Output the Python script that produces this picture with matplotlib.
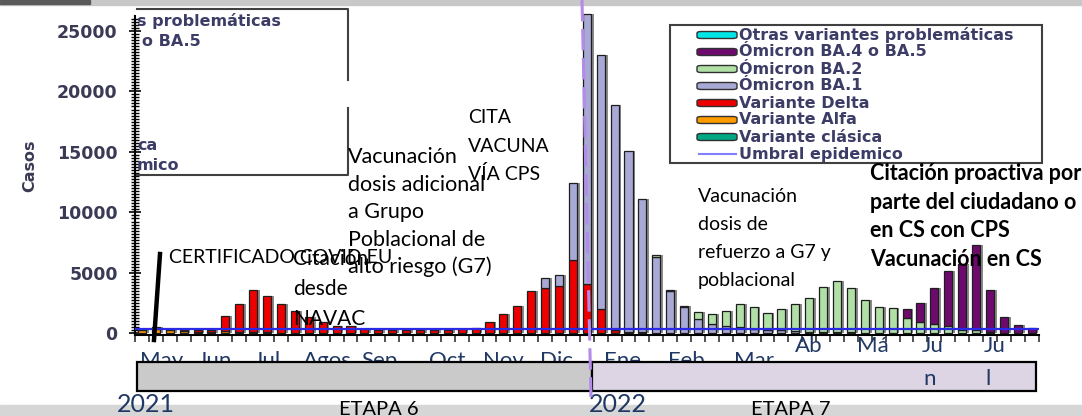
import numpy as np
import matplotlib.pyplot as plt
from matplotlib.patches import Rectangle, FancyBboxPatch
from matplotlib.lines import Line2D
from matplotlib.ticker import MultipleLocator

W, H = 1082, 416


def fx(x):
    return x / W


def fy(y):
    return 1 - y / H


# weekly cases, week 0 = first week of May 2021 ... week 64 = end of Jul 2022
clasica = [0] * 65
alfa = [250, 350, 250, 200, 150, 100, 180, 150, 150, 110, 80, 60, 50, 40, 30, 20] + [0] * 49
delta = [150, 150, 100, 100, 100, 150, 1250, 2300, 3480, 2950, 2370, 1760, 1300, 950, 610, 620,
         400, 300, 250, 250, 250, 300, 300, 350, 470, 930, 1630, 2260, 3470, 3770, 3910, 6030,
         4100, 2040, 300, 150, 100, 50] + [0] * 27
ba1 = [0] * 29 + [830, 960, 6420, 22290, 20980, 18615, 14910, 11025, 6275, 3500, 2160, 1210,
                  800, 650, 500, 350, 250, 250, 200, 150, 150, 100, 100, 80, 50] + [0] * 11
ba2 = [0] * 37 + [200, 110, 150, 580, 830, 1170, 1950, 1825, 1430, 1790, 2250, 2800, 3680,
                  4200, 3670, 2700, 2125, 2120, 1300, 935, 800, 580, 300, 300, 150, 50] + [0] * 2
ba45 = [0] * 55 + [740, 1600, 2975, 4620, 5460, 6970, 3460, 1350, 740, 440]
otras = [0] * 65
umbral = 400

series_names = ["Variante clásica", "Variante Alfa", "Variante Delta", "Ómicron BA.1",
                "Ómicron BA.2", "Ómicron BA.4 o BA.5", "Otras variantes problemáticas"]
series_colors = ["#00a884", "#ff9a00", "#ee0000", "#a9a9d6", "#b0e0a6", "#6e0a6e", "#00e6e6"]

months_low = ["May", "Jun", "Jul", "Agos", "Sep", "Oct", "Nov", "Dic", "Ene", "Feb", "Mar"]
months_low_x = [162, 215, 267, 327, 379, 447, 503, 557, 622, 686, 754]
months_high = ["Ab", "Má", "Ju", "Ju"]
months_high_x = [809, 873, 933, 995]

fig = plt.figure(figsize=(W / 100, H / 100), dpi=100)
ax = fig.add_axes([fx(135), fy(335), fx(1038.6) - fx(135), (335 - 16) / H])

x = np.arange(len(delta))
series = [np.array(s, float) for s in [clasica, alfa, delta, ba1, ba2, ba45, otras]]
total = sum(series)

# drop shadow behind each bar
ax.bar(x + 0.2, total, width=0.58, color="#8a8a8a", zorder=1, clip_on=False)
bottom = np.zeros(len(x))
for vals, col in zip(series, series_colors):
    m = vals > 0
    ax.bar(x[m], vals[m], bottom=bottom[m], width=0.58, color=col,
           edgecolor="#1e1e1e", linewidth=0.9, zorder=2, clip_on=False)
    bottom += vals

ax.axhline(umbral, color="#2a2ae6", lw=1.6, zorder=3)

ax.set_xlim(-0.5, 64.5)
ax.set_ylim(-124, 26225)
ax.set_xticks(np.arange(-0.5, 65, 1))
ax.set_xticklabels([])
ax.tick_params(axis="x", direction="out", length=5, width=1.2, color="#333333")
ax.yaxis.set_major_locator(MultipleLocator(5000))
ax.yaxis.set_minor_locator(MultipleLocator(250))
ax.tick_params(axis="y", which="major", direction="inout", length=9, width=1.2,
               labelsize=12.5, labelcolor="#3a3a55", pad=8)
ax.tick_params(axis="y", which="minor", direction="inout", length=6, width=1)
for lab in ax.get_yticklabels():
    lab.set_fontweight("bold")
    lab.set_family("DejaVu Sans")
ax.spines["top"].set_visible(False)
ax.spines["right"].set_visible(False)
ax.spines["left"].set_linewidth(1.5)
ax.spines["bottom"].set_linewidth(1.5)
ax.patch.set_alpha(0)
fig.text(fx(30), fy(166), "Casos", rotation=90, ha="center", va="center",
         fontsize=11.5, fontweight="bold", color="#3a3a55")

# page decorations
fig.add_artist(Rectangle((0, fy(5)), 1, 5 / H, transform=fig.transFigure,
                         color="#c8c8c8", zorder=0))
fig.add_artist(Rectangle((0, fy(4)), fx(90), 4 / H, transform=fig.transFigure,
                         color="#5a5a5a", zorder=0))
fig.add_artist(Rectangle((0, 0), 1, 11 / H, transform=fig.transFigure,
                         color="#d6d6d6", zorder=0))

# stage boxes
fig.add_artist(Rectangle((fx(137), fy(391)), fx(592) - fx(137), 29 / H, transform=fig.transFigure,
                         facecolor="#cacaca", edgecolor="black", lw=1.6, zorder=6))
fig.add_artist(Rectangle((fx(592), fy(391)), fx(1036) - fx(592), 29 / H, transform=fig.transFigure,
                         facecolor="#ddd5e3", edgecolor="black", lw=1.6, zorder=6))

month_font = dict(family="Lato", fontsize=16, color="#203864", ha="center", va="baseline")
for name, xp in zip(months_low, months_low_x):
    fig.text(fx(xp), fy(367), name, zorder=5, **month_font)
for name, xp in zip(months_high, months_high_x):
    fig.text(fx(xp), fy(352), name, zorder=5, **month_font)
fig.text(fx(930), fy(385), "n", zorder=7, **month_font)
fig.text(fx(988), fy(385), "l", zorder=7, **month_font)
fig.text(fx(146), fy(412), "2021", family="Lato", fontsize=18, color="#203864",
         ha="center", va="baseline", zorder=7)
fig.text(fx(618), fy(412), "2022", family="Lato", fontsize=18, color="#203864",
         ha="center", va="baseline", zorder=7)
fig.text(fx(379), fy(415), "ETAPA 6", family="Lato", fontsize=14.5, color="black",
         ha="center", va="baseline", zorder=7)
fig.text(fx(791), fy(415), "ETAPA 7", family="Lato", fontsize=14.5, color="black",
         ha="center", va="baseline", zorder=7)

# change of year
fig.add_artist(Line2D([fx(582), fx(591)], [fy(0), fy(397)], transform=fig.transFigure,
                      color="#b38be8", lw=2.2, dashes=(7, 2.5), zorder=8))

# pointer for the certificate
fig.add_artist(Line2D([fx(160), fx(154)], [fy(254), fy(340)], transform=fig.transFigure,
                      color="black", lw=3.2, zorder=8))


def block(lines, xp, base, step, **kw):
    for k, line in enumerate(lines):
        fig.text(fx(xp), fy(base + k * step), line, ha="left", va="baseline",
                 zorder=9, **kw)


block(["CERTIFICADO COVID EU"], 169, 263, 0, family="Lato", fontsize=14, color="black")
block(["Citación", "desde", "NAVAC"], 293, 265, 30, family="Lato", fontsize=15, color="black")
block(["Vacunación", "dosis adicional", "a Grupo", "Poblacional de", "alto riesgo (G7)"],
      348, 163, 27.6, family="Lato", fontsize=15.5, color="black")
block(["CITA", "VACUNA", "VÍA CPS"], 468, 123, 28.5, family="Lato", fontsize=14, color="black")
block(["Vacunación", "dosis de", "refuerzo a G7 y", "poblacional"], 698, 202, 28,
      family="Lato", fontsize=14, color="black")
block(["Citación proactiva por", "parte del ciudadano o", "en CS con CPS", "Vacunación en CS"],
      870, 180, 28.5, family="Lato", fontsize=15.5, fontweight="bold", color="black")

# legend
leg_font = dict(family="DejaVu Sans", fontsize=11.5, fontweight="bold", color="#3c3c66",
                ha="left", va="center")
fig.add_artist(Rectangle((fx(670), fy(163)), fx(1042) - fx(670), 138 / H, transform=fig.transFigure,
                         facecolor="white", edgecolor="#404040", lw=1.5, zorder=4))
entries = list(zip(series_names, series_colors))[::-1]
for k, (name, col) in enumerate(entries):
    yc = 35 + 17 * k
    fig.add_artist(FancyBboxPatch((fx(697), fy(yc + 3.5)), fx(40), 7 / H,
                                  boxstyle="round,pad=0,rounding_size=0.004",
                                  transform=fig.transFigure, facecolor=col,
                                  edgecolor="#303030", lw=1, zorder=5))
    fig.text(fx(739), fy(yc), name, zorder=5, **leg_font)
yc = 35 + 17 * len(entries)
fig.add_artist(Line2D([fx(699), fx(736)], [fy(yc), fy(yc)], transform=fig.transFigure,
                      color="#8080ff", lw=1.5, zorder=5))
fig.text(fx(739), fy(yc), "Umbral epidemico", zorder=5, **leg_font)

# left-over piece of a second legend, partly hidden
fig.add_artist(Line2D([fx(137), fx(348), fx(348)], [fy(9), fy(9), fy(80)],
                      transform=fig.transFigure, color="#404040", lw=1.5, zorder=4))
fig.add_artist(Line2D([fx(348), fx(348), fx(137)], [fy(108), fy(175), fy(175)],
                      transform=fig.transFigure, color="#404040", lw=1.5, zorder=4))
fig.text(fx(137), fy(21), "s problemáticas", zorder=5, **leg_font)
fig.text(fx(142), fy(41), "o BA.5", zorder=5, **leg_font)
fig.text(fx(137), fy(145), "ca", zorder=5, **leg_font)
fig.text(fx(137), fy(166), "mico", zorder=5, **leg_font)

fig.savefig("out.png", dpi=100)
